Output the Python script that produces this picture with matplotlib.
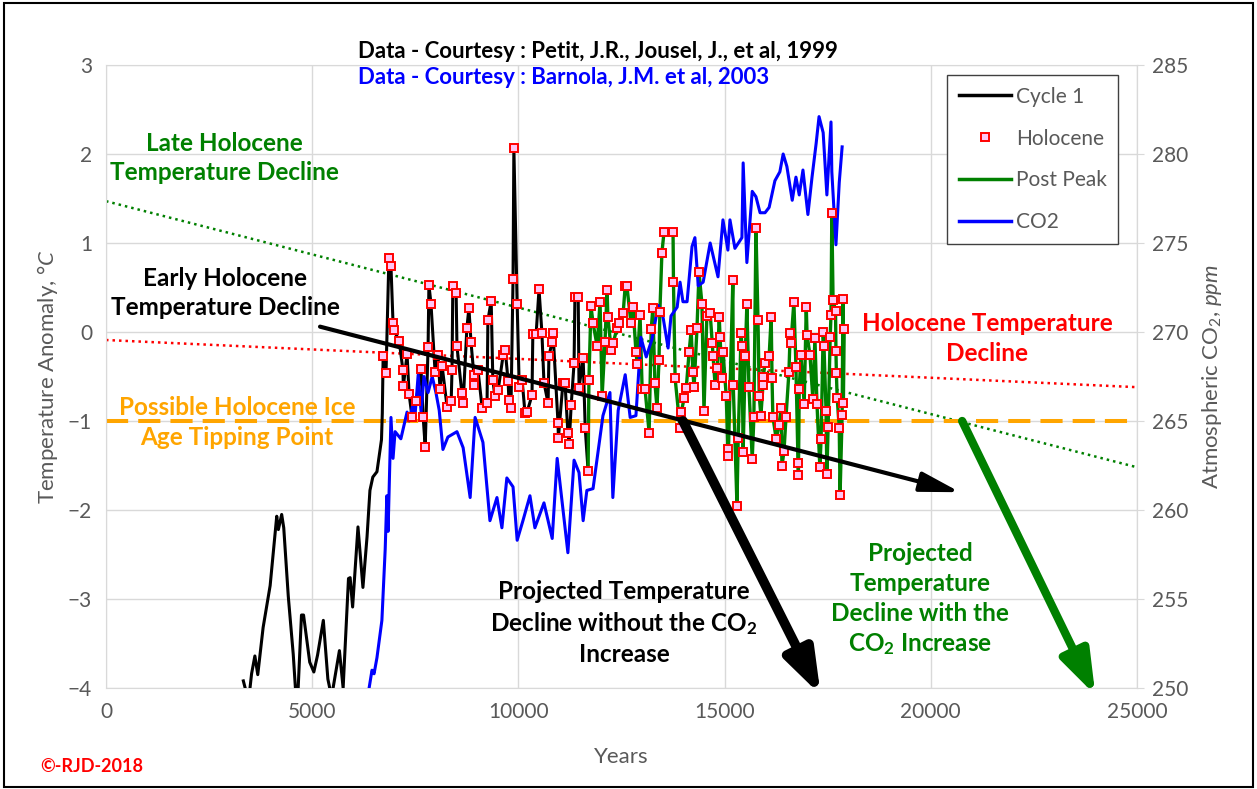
import numpy as np
import matplotlib.pyplot as plt
from matplotlib.lines import Line2D
from matplotlib.patches import Rectangle

plt.rcParams['font.family'] = ['Lato', 'DejaVu Sans']
plt.rcParams['mathtext.fontset'] = 'custom'
plt.rcParams['mathtext.rm'] = 'Lato'
plt.rcParams['mathtext.it'] = 'Lato:italic'
plt.rcParams['mathtext.bf'] = 'Lato:bold'

# ---- data ----
# Cycle 1, the part before the Holocene (years, temp anomaly)
early_years = [3330, 3430, 3480, 3530, 3610, 3680, 3810, 3980, 4140, 4180, 4260, 4310,
               4420, 4540, 4600, 4650, 4740, 4790, 4940, 5040, 5130, 5270, 5380, 5470,
               5660, 5750, 5880, 5920, 5980, 6110, 6230, 6330, 6400, 6470, 6570, 6680, 6700]
early_temp = [-3.92, -4.1, -4.05, -3.84, -3.64, -3.85, -3.32, -2.85, -2.07, -2.22, -2.05, -2.2,
              -2.97, -3.62, -4.05, -4.1, -3.18, -3.18, -3.71, -3.82, -3.63, -3.24, -3.9, -4.1,
              -3.58, -4.0, -2.77, -2.76, -3.09, -2.19, -2.87, -2.3, -1.78, -1.63, -1.57, -1.21, -0.91]

# Holocene points (markers); Post Peak starts at index split_idx
holo_years = [6720, 6790, 6860, 6910, 6960, 6980, 7110, 7200, 7210, 7300, 7350, 7420, 7520,
              7640, 7690, 7740, 7810, 7830, 7880, 7980, 8050, 8100, 8150, 8270, 8370, 8390,
              8410, 8490, 8510, 8630, 8660, 8750, 8800, 8850, 8920, 8930, 9020, 9120, 9240,
              9260, 9340, 9380, 9430, 9510, 9630, 9680, 9750, 9770, 9820, 9870, 9890, 9970,
              10020, 10090, 10160, 10210, 10330, 10350, 10430, 10500, 10570, 10620, 10720,
              10740, 10820, 10840, 10960, 10970, 11080, 11130, 11200, 11230, 11280, 11350,
              11370, 11450, 11470, 11570, 11620, 11690,
              11710, 11760, 11810, 11910, 11980, 12030, 12100, 12150, 12170, 12250, 12300,
              12390, 12440, 12540, 12590, 12630, 12730, 12780, 12850, 12880, 12950, 13000,
              13070, 13170, 13220, 13260, 13310, 13360, 13410, 13430, 13480, 13530, 13750,
              13760, 13800, 13920, 13950, 14020, 14070, 14140, 14190, 14230, 14260, 14330,
              14380, 14450, 14500, 14570, 14650, 14700, 14720, 14770, 14820, 14870, 14890,
              14940, 14960, 15040, 15080, 15090, 15200, 15210, 15300, 15330, 15400, 15420,
              15450, 15500, 15540, 15590, 15670, 15710, 15760, 15810, 15840, 15880, 15930,
              15940, 15980, 16080, 16130, 16150, 16170, 16250, 16320, 16370, 16390, 16440,
              16490, 16560, 16590, 16610, 16680, 16730, 16780, 16790, 16810, 16850, 16930,
              16980, 17000, 17070, 17140, 17190, 17240, 17310, 17340, 17390, 17410, 17460,
              17480, 17510, 17560, 17580, 17600, 17630, 17690, 17700, 17710, 17730, 17780,
              17800, 17850, 17870, 17880, 17900]
holo_temp = [-0.27, -0.46, 0.83, 0.74, 0.10, 0.02, -0.10, -0.43, -0.61, -0.25, -0.70, -0.95, -0.78,
             -0.42, -0.95, -1.29, -0.17, 0.53, 0.32, -0.45, -0.26, -0.64, -0.38, -0.84, -0.78, -0.43,
             0.52, 0.44, -0.16, -0.69, -0.80, 0.04, 0.27, -0.11, -0.48, -0.60, -0.43, -0.85, -0.80,
             0.13, 0.35, -0.54, -0.72, -0.65, -0.26, -0.20, -0.55, -0.76, -0.85, 0.60, 2.07, 0.31,
             -0.62, -0.54, -0.91, -0.90, -0.71, -0.02, -0.02, 0.48, -0.01, -0.57, -0.80,
             -0.27, -0.11, -0.01, -1.02, -1.19, -0.57, -0.57, -1.13, -1.26, -0.82, -0.35,
             0.39, 0.39, -0.63, -0.29, -1.08, -1.56,
             -0.54, 0.29, 0.10, -0.16, 0.34, -0.72, -0.11, 0.47, 0.17, -0.20, -0.12,
             0.04, 0.10, 0.21, 0.52, 0.52, 0.10, 0.28, -0.22, -0.36, 0.19, -0.64,
             -0.64, -1.13, 0.03, 0.27, -0.57, -0.85, -0.31, 0.22, 0.89, 1.12, 1.12,
             0.56, -0.52, -1.08, -0.90, -0.74, -0.63, -0.22, 0.02, -0.45, -0.62, 0.04,
             0.67, 0.32, -0.89, 0.18, 0.21, -0.12, -0.27, -0.60, -0.41, 0.17, -0.06,
             -0.52, -0.22, -0.72, -1.32, -1.39, 0.58, -0.60, -1.95, -1.19, -0.01, -0.16,
             -1.35, -0.27, 0.31, -0.62, -1.43, -0.96, 1.17, 0.13, -0.72, -0.94, -0.60,
             -0.50, -0.35, -0.27, 0.17, -0.52, -0.95, -1.20, -1.05, -0.85, -1.51, -1.34,
             -0.95, -0.45, -0.01, -0.12, 0.34, -0.39, -1.47, -1.61, -0.64, -0.26, -0.81,
             0.28, -0.03, -0.26, -0.75, -0.07, -0.81, -1.52, -1.20, 0.00, -0.16, -0.89,
             -1.60, -1.07, -0.06, 0.19, 1.34, 0.36, 0.24, -0.21, -0.46, -0.74, -1.08,
             -1.83, -0.93, 0.37, -0.80, 0.03]
split_idx = 79

# CO2 (years, ppm)
co2_years = [6380, 6450, 6500, 6570, 6690, 6770, 6810, 6840, 6910, 6960, 7010, 7150, 7300,
             7350, 7440, 7490, 7570, 7640, 7710, 7810, 7910, 8000, 8080, 8170, 8290, 8510,
             8660, 8830, 8950, 9140, 9310, 9480, 9600, 9720, 9870, 9970, 10110, 10280, 10400,
             10620, 10820, 10940, 11200, 11350, 11470, 11570, 11660, 11810, 12050, 12220,
             12290, 12420, 12590, 12710, 12850, 12970, 13100, 13240, 13390, 13510, 13630,
             13700, 13850, 13920, 13990, 14090, 14210, 14280, 14360, 14480, 14650, 14840,
             14960, 15080, 15130, 15250, 15420, 15450, 15540, 15670, 15760, 15860, 15980,
             16080, 16220, 16340, 16420, 16510, 16640, 16730, 16810, 16900, 17020, 17120,
             17220, 17290, 17390, 17480, 17580, 17600, 17700, 17780, 17850]
co2_ppm = [250.0, 251.0, 250.8, 251.7, 253.8, 257.8, 260.8, 258.8, 265.2, 262.9, 264.4, 264.0, 265.5,
           265.0, 265.9, 265.2, 267.6, 265.5, 267.5, 266.6, 267.5, 266.6, 265.6, 263.4, 264.1, 264.4,
           263.5, 260.7, 265.2, 263.8, 259.4, 260.7, 259.0, 261.8, 261.3, 258.3, 259.4, 260.8, 259.0,
           260.4, 258.4, 262.9, 257.6, 262.8, 262.1, 259.4, 261.1, 261.2, 265.3, 266.6,
           260.7, 265.6, 267.6, 265.2, 265.3, 269.7, 268.6, 269.6, 271.5, 270.8, 269.1,
           270.9, 271.4, 272.8, 271.7, 271.7, 274.8, 275.3, 272.6, 272.8, 275.0, 273.1,
           276.3, 274.6, 276.3, 274.7, 275.3, 279.5, 273.9, 277.9, 277.6, 276.7, 276.7,
           277.0, 278.5, 279.0, 280.0, 279.3, 277.4, 278.7, 277.7, 279.1, 276.6, 278.7,
           280.6, 282.1, 281.2, 277.7, 281.8, 279.0, 274.9, 278.4, 280.4]

# trend lines: (intercept, slope per year)
late_trend = (1.47, -0.1196e-3)
holo_trend = (-0.09, -0.0212e-3)
tipping_point = -1.0
# arrows: (start year, start temp), (end year, end temp)
early_arrow = [(5190, 0.06), (20710, -1.80)]
no_co2_arrow = [(13990, -1.0), (17330, -4.08)]
with_co2_arrow = [(20760, -1.0), (23990, -4.08)]

GRAY = '#595959'

fig = plt.figure(figsize=(12.57, 7.89), dpi=100)
ax = fig.add_axes([106 / 1257, 1 - 688 / 789, 1031 / 1257, 623 / 789])

ax.set_xlim(0, 25000)
ax.set_ylim(-4, 3)
ax.set_xticks(range(0, 25001, 5000))
ax.set_yticks(range(-4, 4))
ax.grid(True, color='#d9d9d9', lw=1)
ax.set_axisbelow(True)
for s in ax.spines.values():
    s.set_color('#d9d9d9')
ax.tick_params(length=0, labelsize=15, labelcolor=GRAY, pad=10)

# trend lines
xs = np.array([0, 25000])
ax.plot(xs, late_trend[0] + late_trend[1] * xs, color='#008000', lw=1.8,
        linestyle=(0, (1, 1.6)), zorder=2)
ax.plot(xs, holo_trend[0] + holo_trend[1] * xs, color='#ff0000', lw=1.8,
        linestyle=(0, (1, 1.6)), zorder=2)
ax.axhline(tipping_point, color='#ffa500', lw=2.9, dashes=(5.5, 2.5), zorder=2)

# series
cyc_x = early_years + holo_years[:split_idx + 1]
cyc_y = early_temp + holo_temp[:split_idx + 1]
ax.plot(cyc_x, cyc_y, color='black', lw=2.2, zorder=3)
ax.plot(holo_years[split_idx:], holo_temp[split_idx:], color='#008000', lw=2.4, zorder=3)
co2_t = (np.array(co2_ppm) - 270) / 5
ax.plot(co2_years, co2_t, color='#0000ff', lw=2.2, zorder=4)
ax.plot(holo_years, holo_temp, ls='none', marker='s', ms=6, mfc='#ffc6f5', mec='#ff0000',
        mew=1.4, zorder=5)

# arrows
def arrow(pts, color, lw, hl, hw):
    ax.annotate('', xy=pts[1], xytext=pts[0], annotation_clip=False,
                arrowprops=dict(arrowstyle=f'-|>,head_length={hl},head_width={hw}',
                                color=color, lw=lw, mutation_scale=20,
                                shrinkA=0, shrinkB=0), zorder=6)

arrow(early_arrow, 'black', 3, 1.2, 0.3)
arrow(no_co2_arrow, 'black', 7, 1.3, 0.45)
arrow(with_co2_arrow, '#008000', 6, 1.3, 0.45)

# secondary axis
sec = ax.secondary_yaxis('right', functions=(lambda t: 270 + 5 * t, lambda p: (p - 270) / 5))
sec.set_yticks(range(250, 286, 5))
sec.tick_params(length=5, color='#d9d9d9', labelsize=15, labelcolor=GRAY, pad=6)
sec.spines['right'].set_color('#d9d9d9')
sec.set_ylabel('Atmospheric CO$_2$, $\\mathit{ppm}$', fontsize=16, color=GRAY, labelpad=8)

ax.set_ylabel('Temperature Anomaly, °$\\mathit{C}$', fontsize=16, color=GRAY, labelpad=6)
ax.set_xlabel('Years', fontsize=16, color=GRAY, labelpad=18)

# annotations
bold = dict(fontsize=17.5, fontweight='bold', ha='center', va='center', linespacing=1.35)
ax.text(2860, 1.955, 'Late Holocene\nTemperature Decline', color='#008000', **bold)
ax.text(2890, 0.44, 'Early Holocene\nTemperature Decline', color='black', **bold)
ax.text(3180, -1.02, 'Possible Holocene Ice\nAge Tipping Point', color='#ffa500', **bold)
ax.text(21360, -0.07, 'Holocene Temperature\nDecline', color='#ff0000', **bold)
ax.text(12560, -3.27, 'Projected Temperature\nDecline without the CO$_\\mathbf{2}$\nIncrease',
        color='black', **bold)
ax.text(19740, -3.01, 'Projected\nTemperature\nDecline with the\nCO$_\\mathbf{2}$ Increase',
        color='#008000', **bold)

fig.text(358 / 1257, 1 - 52 / 789, 'Data - Courtesy : Petit, J.R., Jousel, J., et al, 1999',
         fontsize=16, fontweight='bold', color='black', va='center')
fig.text(358 / 1257, 1 - 77 / 789, 'Data - Courtesy : Barnola, J.M. et al, 2003',
         fontsize=16, fontweight='bold', color='#0000ff', va='center')
fig.text(40 / 1257, 1 - 767 / 789, '©-RJD-2018', fontsize=13, fontweight='bold',
         color='#ff0000', va='center')

# legend
handles = [Line2D([0], [0], color='black', lw=2.5),
           Line2D([0], [0], ls='none', marker='s', ms=6, mfc='#ffc6f5', mec='#ff0000', mew=1.4),
           Line2D([0], [0], color='#008000', lw=2.5),
           Line2D([0], [0], color='#0000ff', lw=2.5)]
leg = ax.legend(handles, ['Cycle 1', 'Holocene', 'Post Peak', 'CO2'], loc='upper right',
                bbox_to_anchor=(0.982, 0.9835), fontsize=15, labelspacing=1.05,
                handlelength=2.5, handletextpad=0.25, fancybox=False, framealpha=1,
                borderpad=0.55, borderaxespad=0)
leg.get_frame().set_edgecolor('#404040')
for t in leg.get_texts():
    t.set_color(GRAY)

fig.add_artist(Rectangle((0.003, 0.003), 0.994, 0.993, transform=fig.transFigure,
                         fill=False, edgecolor='black', lw=1.5))

fig.savefig('out.png', dpi=100)
